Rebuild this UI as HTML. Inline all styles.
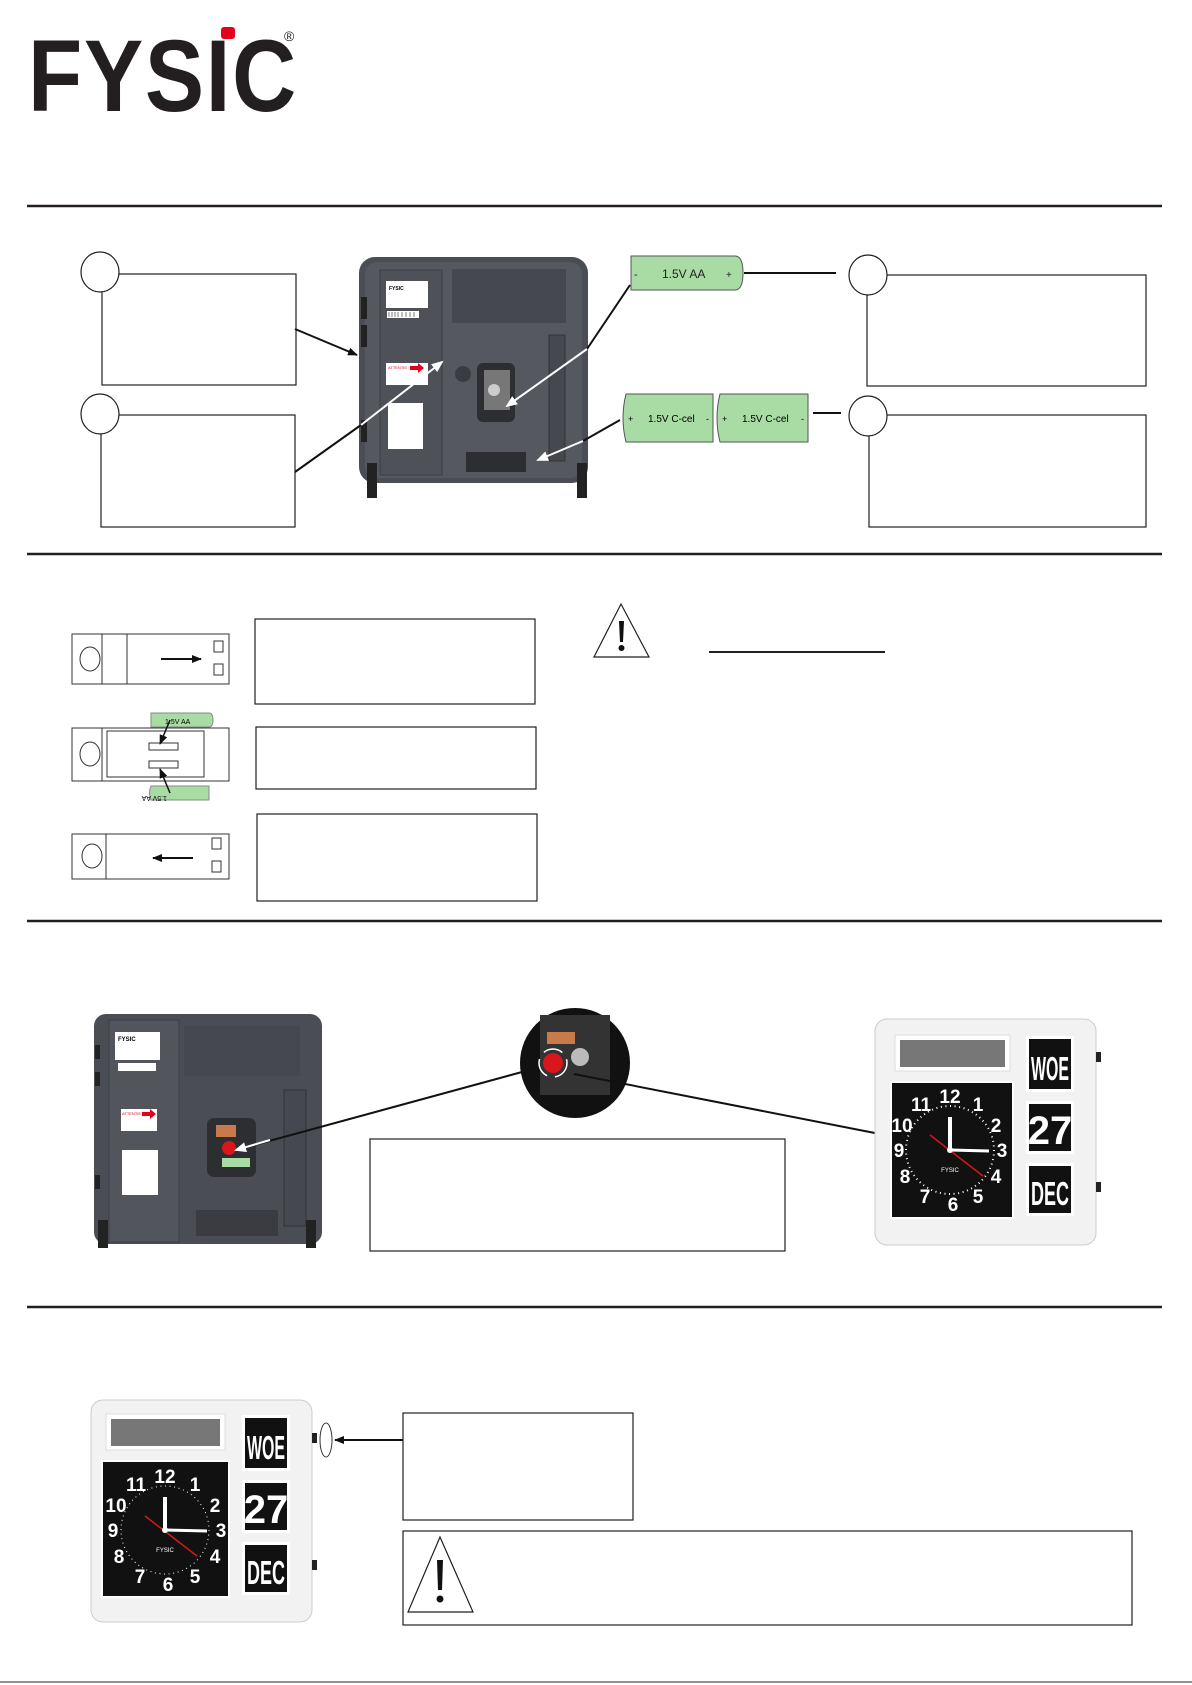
<!DOCTYPE html>
<html><head><meta charset="utf-8"><style>
html,body{margin:0;padding:0;background:#fff}
svg{display:block}
text{font-family:"Liberation Sans",sans-serif}
</style></head><body>
<svg width="1192" height="1685" viewBox="0 0 1192 1685" xmlns="http://www.w3.org/2000/svg">
<defs>
<marker id="ab" markerWidth="10" markerHeight="8" refX="9" refY="4" orient="auto" markerUnits="userSpaceOnUse"><path d="M0,0 L10,4 L0,8 z" fill="#111"/></marker>
<marker id="aw" markerWidth="12" markerHeight="10" refX="10" refY="5" orient="auto" markerUnits="userSpaceOnUse"><path d="M0,0 L12,5 L0,10 z" fill="#fff"/></marker>
</defs>
<!-- logo -->
<text x="28" y="111" font-size="102" font-weight="bold" fill="#231f20" textLength="270" lengthAdjust="spacingAndGlyphs" style="font-family:'Liberation Sans',sans-serif;letter-spacing:2px">FYSIC</text>
<rect x="221" y="27" width="14" height="12" rx="3" fill="#e3001b"/>
<text x="284" y="41" font-size="14" fill="#231f20">®</text>
<!-- rules -->
<g stroke="#231f20" stroke-width="2.5">
<line x1="27" y1="206" x2="1162" y2="206"/>
<line x1="27" y1="554" x2="1162" y2="554"/>
<line x1="27" y1="921" x2="1162" y2="921"/>
<line x1="27" y1="1307" x2="1162" y2="1307"/>
</g>
<line x1="0" y1="1682" x2="1192" y2="1682" stroke="#231f20" stroke-width="1"/>

<!-- section 1 -->
<g fill="none" stroke="#231f20" stroke-width="1.2">
<rect x="102" y="274" width="194" height="111"/>
<rect x="101" y="415" width="194" height="112"/>
<rect x="867" y="275" width="279" height="111"/>
<rect x="869" y="415" width="277" height="112"/>
</g>
<g fill="#fff" stroke="#231f20" stroke-width="1.2">
<ellipse cx="100" cy="272" rx="19" ry="20"/>
<ellipse cx="100" cy="414" rx="19" ry="20"/>
<ellipse cx="868" cy="275" rx="19" ry="20"/>
<ellipse cx="868" cy="416" rx="19" ry="20"/>
</g>
<!-- back photo 1 -->
<g>
<rect x="359" y="257" width="229" height="226" rx="16" fill="#4a4d54"/>
<rect x="365" y="262" width="217" height="216" rx="12" fill="#55585f"/>
<rect x="380" y="270" width="62" height="205" fill="#4e5158" stroke="#3c3f45"/>
<rect x="386" y="281" width="42" height="27" fill="#fff"/>
<text x="389" y="290" font-size="5" font-weight="bold">FYSIC</text>
<rect x="387" y="311" width="32" height="7" fill="#fff"/>
<g stroke="#222" stroke-width=".6"><line x1="389" y1="312" x2="389" y2="317"/><line x1="392" y1="312" x2="392" y2="317"/><line x1="395" y1="312" x2="395" y2="317"/><line x1="398" y1="312" x2="398" y2="317"/><line x1="402" y1="312" x2="402" y2="317"/><line x1="406" y1="312" x2="406" y2="317"/><line x1="410" y1="312" x2="410" y2="317"/><line x1="414" y1="312" x2="414" y2="317"/></g>
<rect x="386" y="363" width="42" height="22" fill="#fff"/>
<text x="388" y="369" font-size="4" fill="#e3001b">ATTENTIE</text>
<path d="M410,366 h8 v-3 l6,5 l-6,5 v-3 h-8z" fill="#e3001b"/>
<rect x="388" y="403" width="35" height="46" fill="#fff"/>
<rect x="452" y="269" width="114" height="54" fill="#45484e"/>
<circle cx="463" cy="374" r="8" fill="#3a3c41"/>
<rect x="477" y="363" width="38" height="59" rx="6" fill="#2c2e32"/>
<rect x="484" y="370" width="26" height="40" fill="#777"/>
<circle cx="494" cy="390" r="6" fill="#ccc"/>
<rect x="549" y="335" width="16" height="126" fill="#45484e" stroke="#333"/>
<rect x="466" y="452" width="60" height="20" fill="#2c2e32"/>
<rect x="361" y="297" width="6" height="22" fill="#222"/>
<rect x="361" y="325" width="6" height="22" fill="#222"/>
<rect x="361" y="420" width="6" height="22" fill="#222"/>
<rect x="367" y="463" width="10" height="35" fill="#222"/>
<rect x="577" y="463" width="10" height="35" fill="#222"/>
</g>
<line x1="295" y1="329" x2="357" y2="355" stroke="#111" stroke-width="2" marker-end="url(#ab)"/>
<line x1="295" y1="472" x2="361" y2="425" stroke="#111" stroke-width="2"/>
<line x1="361" y1="425" x2="442" y2="362" stroke="#fff" stroke-width="2" marker-end="url(#aw)"/>
<!-- batteries -->
<path d="M631,256 h104 q8,0 8,17 q0,17 -8,17 h-104z" fill="#a8dca4" stroke="#555"/>
<text x="634" y="278" font-size="11" fill="#222">-</text>
<text x="662" y="278" font-size="12" fill="#222">1.5V  AA</text>
<text x="726" y="278" font-size="10" fill="#222">+</text>
<line x1="744" y1="273" x2="836" y2="273" stroke="#111" stroke-width="2"/>
<line x1="630" y1="285" x2="587" y2="349" stroke="#111" stroke-width="2"/>
<line x1="587" y1="349" x2="507" y2="406" stroke="#fff" stroke-width="2" marker-end="url(#aw)"/>
<path d="M626,394 h87 v48 h-87 q-6,-24 0,-48z" fill="#a8dca4" stroke="#555"/>
<path d="M720,394 h88 v48 h-88 q-6,-24 0,-48z" fill="#a8dca4" stroke="#555"/>
<text x="628" y="422" font-size="9">+</text>
<text x="648" y="422" font-size="10">1.5V  C-cel</text>
<text x="706" y="422" font-size="9">-</text>
<text x="722" y="422" font-size="9">+</text>
<text x="742" y="422" font-size="10">1.5V  C-cel</text>
<text x="801" y="422" font-size="9">-</text>
<line x1="813" y1="413" x2="841" y2="413" stroke="#111" stroke-width="2"/>
<line x1="620" y1="420" x2="583" y2="441" stroke="#111" stroke-width="2"/>
<line x1="583" y1="441" x2="538" y2="460" stroke="#fff" stroke-width="2" marker-end="url(#aw)"/>

<!-- section 2 -->
<g fill="none" stroke="#231f20" stroke-width="1.2">
<rect x="255" y="619" width="280" height="85"/>
<rect x="256" y="727" width="280" height="62"/>
<rect x="257" y="814" width="280" height="87"/>
</g>
<g fill="#fff" stroke="#333" stroke-width="1">
<rect x="72" y="634" width="157" height="50"/>
<line x1="102" y1="634" x2="102" y2="684"/><line x1="127" y1="634" x2="127" y2="684"/>
<ellipse cx="90" cy="659" rx="10" ry="12"/>
<rect x="214" y="641" width="9" height="11"/><rect x="214" y="664" width="9" height="11"/>
<rect x="72" y="728" width="157" height="53"/>
<line x1="102" y1="728" x2="102" y2="781"/>
<rect x="107" y="731" width="97" height="46"/>
<ellipse cx="90" cy="754" rx="10" ry="12"/>
<rect x="149" y="743" width="29" height="7"/><rect x="149" y="761" width="29" height="7"/>
<rect x="72" y="834" width="157" height="45"/>
<line x1="106" y1="834" x2="106" y2="879"/>
<ellipse cx="92" cy="856" rx="10" ry="12"/>
<rect x="212" y="838" width="9" height="11"/><rect x="212" y="861" width="9" height="11"/>
</g>
<line x1="161" y1="659" x2="201" y2="659" stroke="#111" stroke-width="2" marker-end="url(#ab)"/>
<line x1="193" y1="858" x2="153" y2="858" stroke="#111" stroke-width="2" marker-end="url(#ab)"/>
<path d="M151,713 h58 q4,0 4,7 q0,7 -4,7 h-58z" fill="#a8dca4" stroke="#888"/>
<text x="165" y="724" font-size="7">1.5V  AA</text>
<path d="M151,786 h58 v14 h-58 q-3,-7 0,-14z" fill="#a8dca4" stroke="#888"/>
<text x="193" y="790" font-size="7" transform="rotate(180 180 793)">1.5V  AA</text>
<line x1="170" y1="720" x2="160" y2="744" stroke="#111" stroke-width="1.5" marker-end="url(#ab)"/>
<line x1="170" y1="793" x2="160" y2="769" stroke="#111" stroke-width="1.5" marker-end="url(#ab)"/>
<path d="M621,604 L649,657 L594,657z" fill="#fff" stroke="#231f20" stroke-width="1.2"/>
<path d="M619,621 h5 l-1,21 h-3z" fill="#111"/><circle cx="621.5" cy="648" r="3" fill="#111"/>
<line x1="709" y1="652" x2="885" y2="652" stroke="#231f20" stroke-width="2"/>

<!-- section 3 back photo -->
<g>
<rect x="94" y="1014" width="228" height="230" rx="12" fill="#4a4d54"/>
<rect x="109" y="1020" width="70" height="222" fill="#52555c" stroke="#3c3f45"/>
<rect x="115" y="1032" width="45" height="28" fill="#fff"/>
<text x="118" y="1041" font-size="6" font-weight="bold">FYSIC</text>
<rect x="118" y="1063" width="38" height="8" fill="#fff"/>
<rect x="121" y="1109" width="36" height="22" fill="#fff"/>
<text x="122" y="1115" font-size="4" fill="#e3001b">ATTENTIE</text>
<path d="M142,1112 h8 v-3 l6,5 l-6,5 v-3 h-8z" fill="#e3001b"/>
<rect x="122" y="1150" width="36" height="45" fill="#fff"/>
<rect x="184" y="1026" width="116" height="50" fill="#45484e"/>
<rect x="207" y="1118" width="49" height="59" rx="7" fill="#2c2e32"/>
<rect x="216" y="1125" width="20" height="12" fill="#c87a4a"/>
<circle cx="229" cy="1148" r="7" fill="#d8161b"/>
<rect x="222" y="1158" width="28" height="9" fill="#a8dca4"/>
<rect x="284" y="1090" width="22" height="136" fill="#45484e" stroke="#333"/>
<rect x="196" y="1210" width="82" height="26" fill="#3a3c41"/>
<rect x="95" y="1045" width="5" height="14" fill="#222"/><rect x="95" y="1072" width="5" height="14" fill="#222"/><rect x="95" y="1175" width="5" height="14" fill="#222"/>
<rect x="98" y="1220" width="10" height="28" fill="#222"/><rect x="306" y="1220" width="10" height="28" fill="#222"/>
</g>
<circle cx="575" cy="1063" r="55" fill="#111"/>
<rect x="540" y="1015" width="70" height="80" fill="#333"/>
<rect x="547" y="1032" width="28" height="12" fill="#c87a4a"/>
<circle cx="580" cy="1057" r="9" fill="#bbb"/>
<circle cx="553" cy="1063" r="10" fill="#d8161b"/>
<circle cx="553" cy="1063" r="14" fill="none" stroke="#fff" stroke-width="1.5" stroke-dasharray="20 8"/>
<line x1="522" y1="1072" x2="236" y2="1150" stroke="#111" stroke-width="2"/>
<line x1="270" y1="1140" x2="236" y2="1150" stroke="#fff" stroke-width="2" marker-end="url(#aw)"/>
<line x1="574" y1="1074" x2="885" y2="1135" stroke="#111" stroke-width="2" marker-end="url(#ab)"/>
<rect x="370" y="1139" width="415" height="112" fill="none" stroke="#231f20" stroke-width="1.2"/>

<!-- clocks -->
<g id="c1" transform="translate(875,1019)">
<rect x="0" y="0" width="221" height="226" rx="12" fill="#f2f2f2" stroke="#ccc"/>
<rect x="221" y="33" width="5" height="10" fill="#222"/><rect x="221" y="163" width="5" height="10" fill="#222"/>
<rect x="20" y="16" width="115" height="36" fill="#fff" stroke="#ddd"/>
<rect x="25" y="21" width="105" height="27" fill="#777"/>
<rect x="151" y="17" width="48" height="56" fill="#fff"/><rect x="154" y="20" width="42" height="50" fill="#111"/>
<rect x="151" y="82" width="48" height="53" fill="#fff"/><rect x="154" y="85" width="42" height="47" fill="#111"/>
<rect x="151" y="144" width="48" height="53" fill="#fff"/><rect x="154" y="147" width="42" height="47" fill="#111"/>
<text x="175" y="61" font-size="33" font-weight="bold" fill="#fff" text-anchor="middle" textLength="38" lengthAdjust="spacingAndGlyphs">WOE</text>
<text x="175" y="125" font-size="40" font-weight="bold" fill="#fff" text-anchor="middle">27</text>
<text x="175" y="186" font-size="33" font-weight="bold" fill="#fff" text-anchor="middle" textLength="38" lengthAdjust="spacingAndGlyphs">DEC</text>
<rect x="16" y="63" width="122" height="136" fill="#111" stroke="#fff" stroke-width="2"/>
<circle cx="75" cy="131" r="44" fill="none" stroke="#fff" stroke-width="2" stroke-dasharray="1 3.6"/>
<g font-size="19" font-weight="bold" fill="#fff" text-anchor="middle">
<text x="75" y="84">12</text><text x="103" y="92">1</text><text x="121" y="113">2</text><text x="127" y="138">3</text><text x="121" y="164">4</text><text x="103" y="184">5</text><text x="78" y="192">6</text><text x="50" y="184">7</text><text x="30" y="164">8</text><text x="24" y="138">9</text><text x="27" y="113">10</text><text x="46" y="92">11</text>
</g>
<line x1="75" y1="131" x2="75" y2="98" stroke="#fff" stroke-width="4"/>
<line x1="75" y1="131" x2="114" y2="132" stroke="#fff" stroke-width="3"/>
<line x1="55" y1="116" x2="108" y2="157" stroke="#d8161b" stroke-width="1.5"/>
<circle cx="75" cy="131" r="3" fill="#fff"/>
<text x="75" y="153" font-size="6" fill="#fff" text-anchor="middle">FYSIC</text>
</g>
<g transform="translate(91,1400)">
<rect x="0" y="0" width="221" height="222" rx="12" fill="#f2f2f2" stroke="#ccc"/>
<rect x="221" y="33" width="5" height="10" fill="#222"/><rect x="221" y="160" width="5" height="10" fill="#222"/>
<rect x="15" y="14" width="119" height="36" fill="#fff" stroke="#ddd"/>
<rect x="20" y="19" width="109" height="27" fill="#777"/>
<rect x="151" y="15" width="48" height="56" fill="#fff"/><rect x="154" y="18" width="42" height="50" fill="#111"/>
<rect x="151" y="80" width="48" height="53" fill="#fff"/><rect x="154" y="83" width="42" height="47" fill="#111"/>
<rect x="151" y="142" width="48" height="53" fill="#fff"/><rect x="154" y="145" width="42" height="47" fill="#111"/>
<text x="175" y="59" font-size="33" font-weight="bold" fill="#fff" text-anchor="middle" textLength="38" lengthAdjust="spacingAndGlyphs">WOE</text>
<text x="175" y="123" font-size="40" font-weight="bold" fill="#fff" text-anchor="middle">27</text>
<text x="175" y="184" font-size="33" font-weight="bold" fill="#fff" text-anchor="middle" textLength="38" lengthAdjust="spacingAndGlyphs">DEC</text>
<rect x="11" y="61" width="127" height="136" fill="#111" stroke="#fff" stroke-width="2"/>
<circle cx="74" cy="130" r="44" fill="none" stroke="#fff" stroke-width="1" stroke-dasharray="1 3.6"/>
<g font-size="19" font-weight="bold" fill="#fff" text-anchor="middle">
<text x="74" y="83">12</text><text x="104" y="91">1</text><text x="124" y="112">2</text><text x="130" y="137">3</text><text x="124" y="163">4</text><text x="104" y="183">5</text><text x="77" y="191">6</text><text x="49" y="183">7</text><text x="28" y="163">8</text><text x="22" y="137">9</text><text x="25" y="112">10</text><text x="45" y="91">11</text>
</g>
<line x1="74" y1="130" x2="74" y2="97" stroke="#fff" stroke-width="4"/>
<line x1="74" y1="130" x2="116" y2="131" stroke="#fff" stroke-width="3"/>
<line x1="54" y1="116" x2="106" y2="156" stroke="#d8161b" stroke-width="1.5"/>
<circle cx="74" cy="130" r="3" fill="#fff"/>
<text x="74" y="152" font-size="6" fill="#fff" text-anchor="middle">FYSIC</text>
</g>
<ellipse cx="326" cy="1440" rx="6" ry="17" fill="none" stroke="#333"/>
<line x1="403" y1="1440" x2="335" y2="1440" stroke="#111" stroke-width="2" marker-end="url(#ab)"/>
<rect x="403" y="1413" width="230" height="107" fill="none" stroke="#231f20" stroke-width="1.2"/>
<rect x="403" y="1531" width="729" height="94" fill="none" stroke="#231f20" stroke-width="1.2"/>
<path d="M440,1537 L473,1612 L408,1612z" fill="#fff" stroke="#231f20" stroke-width="1.2"/>
<path d="M437,1560 h6 l-1,30 h-4z" fill="#111"/><circle cx="440" cy="1599" r="3.5" fill="#111"/>
</svg>
</body></html>
